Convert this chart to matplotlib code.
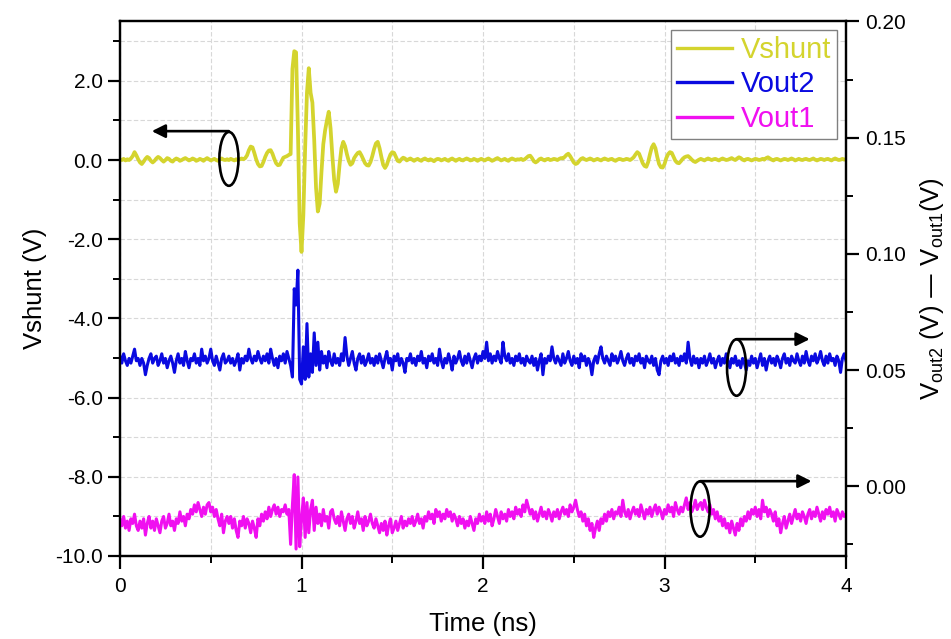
import numpy as np
import matplotlib
matplotlib.use("Agg")
import matplotlib.pyplot as plt
from matplotlib.patches import Ellipse
from matplotlib.ticker import MultipleLocator, FormatStrFormatter

plt.rcParams['font.family'] = ['Liberation Sans', 'DejaVu Sans']
plt.rcParams['axes.unicode_minus'] = False

# sample times (ns), 10 ps spacing
time_ns = np.round(np.arange(0, 401) * 0.01, 2)

# shunt voltage (V)
vshunt = [
    0.02, 0.00, 0.03, -0.01, 0.02, 0.00, 0.04, 0.10, 0.20, 0.12, 0.02, -0.06, -0.10, -0.04, 0.03, 0.08, 0.05, -0.02, -0.06, -0.02,
    0.04, 0.08, 0.05, 0.00, -0.04, 0.00, 0.05, 0.03, -0.02, -0.04, 0.01, 0.04, 0.02, -0.02, 0.00, 0.03, 0.05, 0.02, -0.01, 0.01,
    0.04, 0.02, -0.02, 0.00, 0.03, 0.01, -0.02, 0.02, 0.05, 0.02, -0.01, 0.01, 0.03, 0.00, -0.02, 0.02, 0.04, 0.01, 0.00, 0.02,
    0.00, 0.03, 0.01, -0.01, 0.02, 0.00, 0.02, 0.04, 0.02, 0.05, 0.12, 0.25, 0.34, 0.32, 0.18, 0.02, -0.10, -0.16, -0.15, -0.05,
    0.08, 0.18, 0.24, 0.25, 0.16, 0.03, -0.08, -0.13, -0.12, -0.03, 0.06, 0.08, 0.10, 0.13, 0.15, 2.30, 2.75, 2.72, 0.80, -1.60,
    -2.32, -1.40, 0.30, 1.70, 2.32, 1.70, 1.45, 0.50, -0.70, -1.30, -1.10, -0.30, 0.40, 0.75, 1.00, 1.22, 0.80, 0.10, -0.50, -0.80,
    -0.60, -0.10, 0.30, 0.46, 0.35, 0.15, -0.02, -0.12, -0.08, 0.05, 0.12, 0.18, 0.20, 0.12, 0.02, -0.08, -0.13, -0.14, -0.05, 0.10,
    0.28, 0.42, 0.46, 0.30, 0.08, -0.12, -0.20, -0.12, 0.02, 0.14, 0.20, 0.18, 0.08, -0.02, -0.04, 0.02, 0.06, 0.04, -0.01, 0.02,
    0.04, 0.01, -0.02, 0.01, 0.03, 0.00, -0.02, 0.02, 0.04, 0.01, -0.01, 0.02, 0.00, -0.03, 0.01, 0.03, 0.02, -0.01, 0.01, 0.03,
    0.00, -0.02, 0.02, 0.04, 0.01, -0.02, 0.01, 0.03, 0.00, -0.01, 0.02, 0.04, 0.02, -0.01, 0.00, 0.03, 0.01, -0.02, 0.01, 0.03,
    0.01, -0.01, 0.02, 0.04, 0.01, -0.02, 0.00, 0.03, 0.05, 0.02, -0.01, 0.01, 0.03, 0.00, -0.02, 0.02, 0.04, 0.02, 0.00, 0.02,
    0.01, 0.03, 0.00, 0.02, 0.06, 0.10, 0.11, 0.05, -0.03, -0.06, -0.03, 0.02, 0.04, 0.01, -0.01, 0.02, 0.03, 0.00, 0.01, 0.03,
    0.02, 0.00, 0.03, 0.05, 0.04, 0.08, 0.13, 0.16, 0.10, 0.02, -0.06, -0.10, -0.08, -0.02, 0.03, 0.05, 0.02, 0.00, 0.02, 0.04,
    0.02, -0.01, 0.01, 0.03, 0.01, -0.01, 0.02, 0.04, 0.02, 0.00, 0.02, 0.03, 0.00, -0.02, 0.01, 0.03, 0.02, 0.00, 0.01, 0.03,
    0.02, 0.00, 0.03, 0.07, 0.14, 0.20, 0.16, 0.04, -0.08, -0.15, -0.17, -0.05, 0.15, 0.32, 0.40, 0.30, 0.08, -0.10, -0.18, -0.19,
    -0.10, 0.05, 0.15, 0.20, 0.18, 0.08, -0.02, -0.07, -0.08, -0.03, 0.03, 0.07, 0.09, 0.10, 0.06, 0.01, -0.03, -0.05, -0.02, 0.01,
    0.03, 0.01, -0.01, 0.02, 0.04, 0.02, 0.00, 0.02, 0.03, 0.01, -0.01, 0.02, 0.04, 0.02, 0.00, 0.01, 0.03, 0.05, 0.02, 0.00,
    0.04, 0.07, 0.05, 0.01, -0.01, 0.02, 0.03, 0.01, -0.01, 0.01, 0.03, 0.02, 0.00, 0.01, 0.03, 0.01, 0.05, 0.07, 0.04, 0.01,
    -0.01, 0.02, 0.03, 0.01, -0.01, 0.01, 0.03, 0.02, 0.00, 0.02, 0.04, 0.02, -0.01, 0.01, 0.03, 0.01, 0.00, 0.02, 0.03, 0.01,
    0.00, 0.02, 0.04, 0.01, -0.01, 0.01, 0.03, 0.02, 0.00, 0.02, 0.03, 0.01, -0.01, 0.02, 0.04, 0.02, 0.00, 0.01, 0.03, 0.01,
    0.02,
]

# output voltage 2 (mV)
vout2_mv = [
    56, 53, 57, 54, 52, 55, 53, 56, 59, 54, 55, 52, 55, 53, 48, 52, 55, 57, 53, 55,
    56, 52, 54, 57, 53, 55, 51, 54, 56, 53, 49, 54, 57, 53, 55, 52, 58, 54, 51, 55,
    54, 57, 53, 55, 52, 59, 54, 56, 53, 55, 59, 54, 52, 56, 53, 50, 55, 57, 53, 54,
    56, 53, 55, 52, 54, 57, 50, 55, 53, 56, 54, 59, 55, 53, 56, 54, 58, 55, 53, 56,
    54, 57, 53, 59, 55, 52, 55, 51, 56, 54, 57, 53, 58, 55, 52, 47, 85, 78, 93, 46,
    44, 60, 46, 70, 47, 57, 49, 66, 52, 62, 50, 58, 53, 56, 51, 58, 54, 52, 57, 53,
    55, 52, 57, 54, 64, 56, 52, 55, 58, 53, 50, 55, 57, 53, 56, 52, 54, 57, 53, 55,
    52, 56, 53, 57, 54, 51, 55, 58, 53, 55, 50, 56, 54, 57, 52, 55, 53, 49, 55, 54,
    57, 53, 55, 52, 56, 54, 58, 53, 55, 51, 56, 54, 57, 53, 55, 52, 59, 54, 51, 55,
    53, 57, 54, 50, 56, 53, 55, 58, 54, 52, 56, 53, 57, 54, 51, 55, 57, 53, 56, 54,
    58, 55, 62, 54, 57, 53, 56, 54, 58, 55, 53, 62, 56, 54, 57, 53, 55, 52, 56, 54,
    57, 53, 55, 52, 56, 54, 53, 56, 52, 55, 50, 54, 57, 48, 55, 53, 56, 54, 60, 55,
    53, 56, 54, 52, 57, 53, 55, 58, 54, 52, 56, 53, 55, 51, 57, 54, 56, 52, 55, 53,
    48, 54, 56, 53, 57, 60, 55, 53, 56, 54, 52, 57, 54, 56, 53, 55, 58, 54, 52, 55,
    57, 53, 55, 52, 56, 54, 57, 53, 55, 51, 56, 54, 53, 56, 52, 55, 50, 48, 54, 56,
    53, 55, 52, 56, 54, 57, 53, 55, 52, 56, 54, 57, 53, 62, 55, 52, 56, 53, 55, 51,
    55, 53, 56, 52, 54, 57, 53, 55, 51, 54, 56, 52, 55, 53, 57, 54, 51, 55, 53, 56,
    52, 54, 51, 55, 53, 50, 54, 52, 56, 53, 55, 51, 54, 57, 52, 55, 50, 54, 56, 53,
    55, 52, 56, 54, 51, 55, 57, 53, 55, 52, 56, 54, 53, 57, 54, 52, 56, 53, 58, 54,
    52, 56, 54, 57, 53, 55, 58, 54, 52, 56, 53, 57, 54, 55, 52, 56, 54, 49, 55, 57,
    54,
]

# output voltage 1 (mV)
vout1_mv = [
    -14, -17, -13, -18, -15, -19, -14, -16, -12, -17, -19, -15, -18, -14, -21, -16, -13, -18, -15, -19,
    -14, -17, -20, -15, -13, -18, -16, -12, -17, -15, -19, -14, -16, -11, -15, -13, -17, -12, -14, -10,
    -12, -8, -11, -7, -10, -13, -9, -12, -8, -7, -11, -9, -13, -10, -14, -17, -12, -20, -15, -13,
    -16, -13, -18, -14, -19, -22, -15, -17, -13, -18, -14, -16, -20, -15, -18, -22, -14, -17, -12, -15,
    -11, -14, -9, -13, -10, -8, -12, -9, -13, -10, -11, -8, -12, -10, -25, -8, 5, -27, 4, -26,
    -14, -5, -22, -7, -20, -10, -6, -19, -9, -16, -12, -17, -10, -15, -13, -18, -11, -10, -14, -16,
    -13, -17, -11, -15, -19, -14, -12, -16, -13, -18, -15, -11, -16, -14, -19, -13, -17, -15, -12, -16,
    -18, -14, -17, -20, -16, -19, -15, -21, -17, -14, -20, -18, -15, -19, -16, -13, -18, -15, -17, -14,
    -16, -13, -17, -15, -12, -16, -14, -18, -13, -15, -11, -14, -12, -16, -10, -13, -11, -15, -12, -14,
    -10, -13, -11, -15, -12, -14, -17, -13, -16, -14, -18, -15, -17, -13, -16, -19, -14, -16, -12, -15,
    -13, -16, -11, -15, -12, -17, -14, -10, -13, -16, -11, -14, -12, -15, -10, -13, -11, -14, -9, -12,
    -10, -13, -8, -11, -6, -9, -12, -10, -14, -11, -15, -12, -9, -13, -11, -14, -10, -12, -15, -11,
    -13, -10, -14, -11, -9, -12, -10, -13, -8, -11, -9, -6, -10, -13, -11, -15, -12, -17, -14, -19,
    -16, -22, -18, -15, -19, -14, -16, -12, -15, -11, -13, -10, -14, -11, -12, -9, -13, -6, -11, -13,
    -10, -14, -11, -9, -12, -10, -13, -8, -11, -14, -10, -12, -9, -13, -10, -8, -12, -9, -11, -14,
    -10, -12, -8, -11, -9, -13, -7, -10, -12, -9, -11, -8, -5, -10, -7, -11, -9, -6, -10, -8,
    -7, -10, -6, -9, -11, -8, -12, -10, -14, -11, -15, -13, -17, -14, -18, -16, -20, -15, -18, -21,
    -16, -19, -14, -17, -13, -15, -11, -14, -10, -12, -9, -13, -10, -14, -6, -11, -9, -13, -10, -12,
    -15, -11, -17, -14, -20, -16, -13, -18, -15, -12, -16, -13, -10, -14, -12, -15, -11, -13, -16, -12,
    -10, -14, -11, -13, -9, -12, -15, -11, -14, -10, -12, -9, -13, -11, -15, -10, -12, -14, -11, -13,
    -12,
]

vout2 = np.array(vout2_mv) / 1000.0
vout1 = np.array(vout1_mv) / 1000.0

C_SHUNT = '#d4d42e'
C_OUT2 = '#0a0ae0'
C_OUT1 = '#f010f0'

fig = plt.figure(figsize=(9.51, 6.39), dpi=100)
ax = fig.add_axes([0.1262, 0.1299, 0.7634, 0.8365])
ax2 = ax.twinx()

# grid on the left axis
ax.grid(True, which='both', color='#d8d8d8', linestyle=(0, (4, 2)), linewidth=0.8)
ax.set_axisbelow(True)

l1, = ax.plot(time_ns, vshunt, color=C_SHUNT, lw=2.7, label='Vshunt', solid_joinstyle='round')
l2, = ax2.plot(time_ns, vout2, color=C_OUT2, lw=2.2, label='Vout2')
l3, = ax2.plot(time_ns, vout1, color=C_OUT1, lw=2.2, label='Vout1')

ax.set_xlim(0, 4)
ax.set_ylim(-10, 3.5)
ax2.set_ylim(-0.03, 0.20)

ax.xaxis.set_major_locator(MultipleLocator(1))
ax.xaxis.set_minor_locator(MultipleLocator(0.5))
ax.xaxis.set_major_formatter(FormatStrFormatter('%d'))
ax.yaxis.set_major_locator(MultipleLocator(2))
ax.yaxis.set_minor_locator(MultipleLocator(1))
ax.yaxis.set_major_formatter(FormatStrFormatter('%.1f'))
ax2.yaxis.set_major_locator(MultipleLocator(0.05))
ax2.yaxis.set_minor_locator(MultipleLocator(0.025))
ax2.yaxis.set_major_formatter(FormatStrFormatter('%.2f'))

for a in (ax, ax2):
    for s in a.spines.values():
        s.set_linewidth(1.6)
    a.tick_params(which='major', direction='out', length=9, width=1.6, labelsize=15)
    a.tick_params(which='minor', direction='out', length=5, width=1.4)
ax.tick_params(axis='x', which='major', pad=6)
ax2.tick_params(axis='y', which='major', pad=5)

ax.set_xlabel('Time (ns)', fontsize=18.5, labelpad=12)
ax.set_ylabel('Vshunt (V)', fontsize=18.5, labelpad=6)
ax2.set_ylabel(r'V$_{\mathregular{out2}}$ (V) — V$_{\mathregular{out1}}$(V)', fontsize=18.5, labelpad=8)

# ellipse markers with arrows pointing at the matching axis
ax.add_patch(Ellipse((0.60, 0.03), 0.105, 1.36, fill=False, ec='black', lw=1.9, zorder=5))
ax.annotate('', xy=(0.175, 0.73), xytext=(0.60, 0.73),
            arrowprops=dict(arrowstyle='-|>', color='black', lw=1.9, mutation_scale=20,
                            shrinkA=0, shrinkB=0), zorder=5)

ax2.add_patch(Ellipse((3.397, 0.0511), 0.105, 0.0243, fill=False, ec='black', lw=1.9, zorder=5))
ax2.annotate('', xy=(3.80, 0.0633), xytext=(3.397, 0.0633),
             arrowprops=dict(arrowstyle='-|>', color='black', lw=1.9, mutation_scale=20,
                             shrinkA=0, shrinkB=0), zorder=5)

ax2.add_patch(Ellipse((3.196, -0.0098), 0.105, 0.0238, fill=False, ec='black', lw=1.9, zorder=5))
ax2.annotate('', xy=(3.81, 0.0022), xytext=(3.196, 0.0022),
             arrowprops=dict(arrowstyle='-|>', color='black', lw=1.9, mutation_scale=20,
                             shrinkA=0, shrinkB=0), zorder=5)

leg = ax2.legend(handles=[l1, l2, l3], loc='upper right', fontsize=21,
                 frameon=True, fancybox=False, framealpha=1, edgecolor='#808080',
                 handlelength=1.9, handletextpad=0.3, borderpad=0.2, labelspacing=0.22,
                 borderaxespad=0.3)
leg.get_frame().set_linewidth(1.0)
for txt, c in zip(leg.get_texts(), [C_SHUNT, C_OUT2, C_OUT1]):
    txt.set_color(c)
for h in leg.legend_handles:
    h.set_linewidth(2.4)

fig.savefig('out.png', dpi=100)
